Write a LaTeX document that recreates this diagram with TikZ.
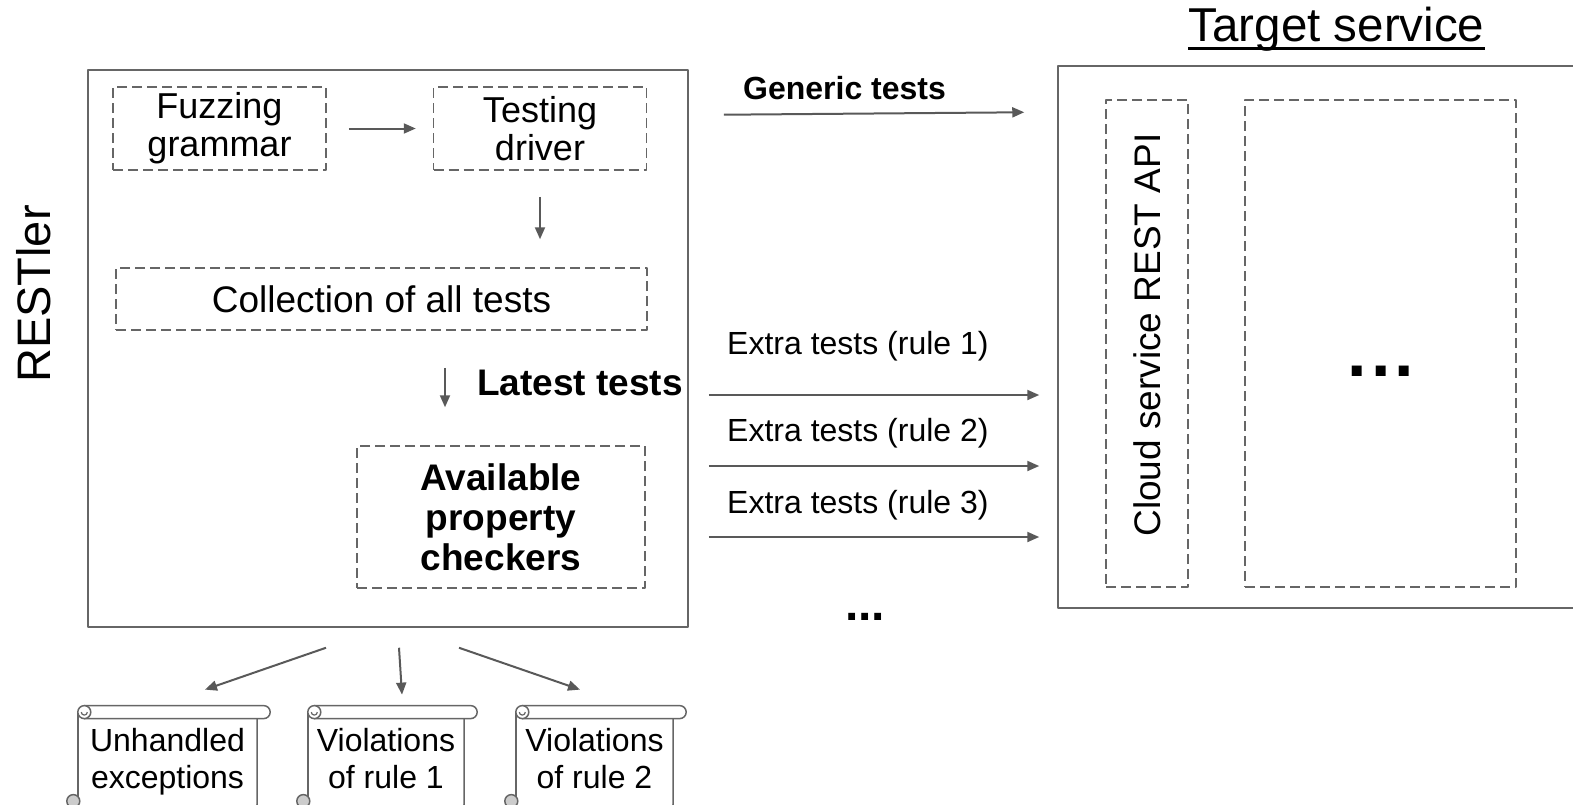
\documentclass[tikz,border=0pt]{standalone}
\usepackage{fontspec}
\setmainfont{Liberation Sans}
\usetikzlibrary{arrows.meta, positioning, calc}
\definecolor{lngray}{HTML}{666666}
\definecolor{argray}{HTML}{595959}
\definecolor{curlgray}{HTML}{CCCCCC}

\begin{document}
\begin{tikzpicture}[
    x=1pt, y=-1pt, line join=round,
    frame/.style={draw=lngray, line width=1.5pt, inner sep=0pt},
    dbox/.style={draw=lngray, line width=1.5pt, dash pattern=on 10pt off 5pt,
                inner sep=0pt, align=center},
    arr/.style={-{Triangle[length=12pt, width=10pt]}, draw=argray, line width=2pt},
    lbl/.style={inner sep=0pt, font=\fontsize{32}{37}\selectfont},
    scroll/.style={inner sep=0pt, align=center, minimum height=91.2pt,
                font=\fontsize{32}{37}\selectfont},
    curl/.style={draw=lngray, line width=1.5pt}
]
\useasboundingbox (0,0) rectangle (1573,804);
\clip (0,0) rectangle (1573,804);

\node[frame, minimum width=600pt, minimum height=557pt] (restler) at (388,348.5) {};
\node[rotate=90, anchor=base, inner sep=0pt, font=\fontsize{47}{50}\selectfont] (restlbl) at (50,294) {RESTler};

\node[dbox, minimum width=213pt, minimum height=83pt, font=\fontsize{36}{38}\selectfont] (fuzz) at (219.5,128.5) {Fuzzing\\grammar};
\node[dbox, minimum width=213pt, minimum height=83pt, font=\fontsize{36}{38}\selectfont, right=106pt of fuzz] (driver) {Testing\\driver};
\node[dbox, minimum width=531pt, minimum height=62pt, font=\fontsize{37}{40}\selectfont] (coll) at (381.5,299) {Collection of all tests};
\node[anchor=west, inner sep=0pt, font=\bfseries\fontsize{37}{40}\selectfont] (latest) at (477,383) {Latest tests};
\node[dbox, minimum width=288pt, minimum height=142pt, font=\bfseries\fontsize{37}{40}\selectfont] (checkers) at (501,517) {Available\\property\\checkers};

\node[frame, minimum width=542pt, minimum height=542pt] (target) at (1329,337) {};
\node[anchor=base, inner sep=0pt, font=\fontsize{47.5}{50}\selectfont] (title) at (1336.5,41) {Target service};
\draw[line width=3pt] ($(title.base west)+(0,7.5)$) -- ($(title.base east)+(0,7.5)$);
\node[dbox, minimum width=82pt, minimum height=487pt] (api) at (1147,343.5) {};
\node[rotate=90, inner sep=0pt, font=\fontsize{37}{40}\selectfont] (apilbl) at (1147.5,335) {Cloud service REST API};
\node[dbox, minimum width=271pt, minimum height=487pt] (more) at (1380.5,343.5) {};
\node[inner sep=0pt, font=\bfseries\fontsize{70}{74}\selectfont] (moredots) at (1381,371) {.\kern4pt.\kern4pt.};

\node[anchor=west, inner sep=0pt, font=\bfseries\fontsize{32}{36}\selectfont] (generic) at (743,88.5) {Generic tests};
\foreach \i/\y in {1/354.5, 2/441.5, 3/513.5}
    \node[lbl, anchor=base west] (rule\i) at (727,\y) {Extra tests (rule \i)};
\node[anchor=base, inner sep=0pt, font=\bfseries\fontsize{48}{50}\selectfont] (dots) at (865,620) {...};

\node[scroll, minimum width=179pt] (unh)  at (167.5,763) {\strut Unhandled\\exceptions\strut};
\node[scroll, minimum width=156pt] (vio1) at (386,763)   {\strut Violations\\of rule 1\strut};
\node[scroll, minimum width=157pt] (vio2) at (594.5,763) {\strut Violations\\of rule 2\strut};

\foreach \s in {unh,vio1,vio2} {
    \draw[curl] ($(\s.north west)+(0,-5.6)$) -- ($(\s.north west)+(0,79.4)$);
    \draw[curl, rounded corners=5pt] (\s.north east) -- ($(\s.north east)+(0,92)$) -- ($(\s.north west)+(0,92)$);
    \draw[curl, fill=white] ($(\s.north west)+(6.5,-11.6)$) -- ($(\s.north east)+(6.5,-11.6)$)
        arc[start angle=-90, end angle=90, radius=6.5] -- ($(\s.north west)+(6.5,1.4)$) -- cycle;
    \draw[curl, fill=white] ($(\s.north west)+(6.5,-5.1)$) circle[radius=6.5pt];
    \draw[curl, line width=1.2pt] ($(\s.north west)+(3.5,-5.1)$) arc[start angle=180, end angle=0, radius=3];
    \draw[curl, fill=curlgray] ($(\s.north west)+(-4.5,83.9)$) circle[radius=6.5pt];
}

\draw[arr, shorten <=22pt, shorten >=17pt] (fuzz) -- (driver);
\draw[arr, shorten <=26pt, shorten >=28pt] (driver) -- (driver |- coll.north);
\draw[arr, shorten <=37pt, shorten >=38pt] ([xshift=63.5pt]coll.south) -- ([xshift=-56pt]checkers.north);
\draw[arr, shorten <=35pt, shorten >=33pt] (restler.east |- 0,115) -- (target.west |- 0,112);
\foreach \y in {395,466,537}
    \draw[arr, shorten <=20pt, shorten >=18pt] (restler.east |- 0,\y) -- (target.west |- 0,\y);
\foreach \s/\a/\b/\c in {unh/-62/37.5/27.6, vio1/11/16/22.6, vio2/71/-14.5/27.6}
    \draw[arr] ([xshift=\a pt, yshift=-20pt]restler.south) -- ([xshift=\b pt, yshift=\c pt]\s.north);
\end{tikzpicture}
\end{document}
